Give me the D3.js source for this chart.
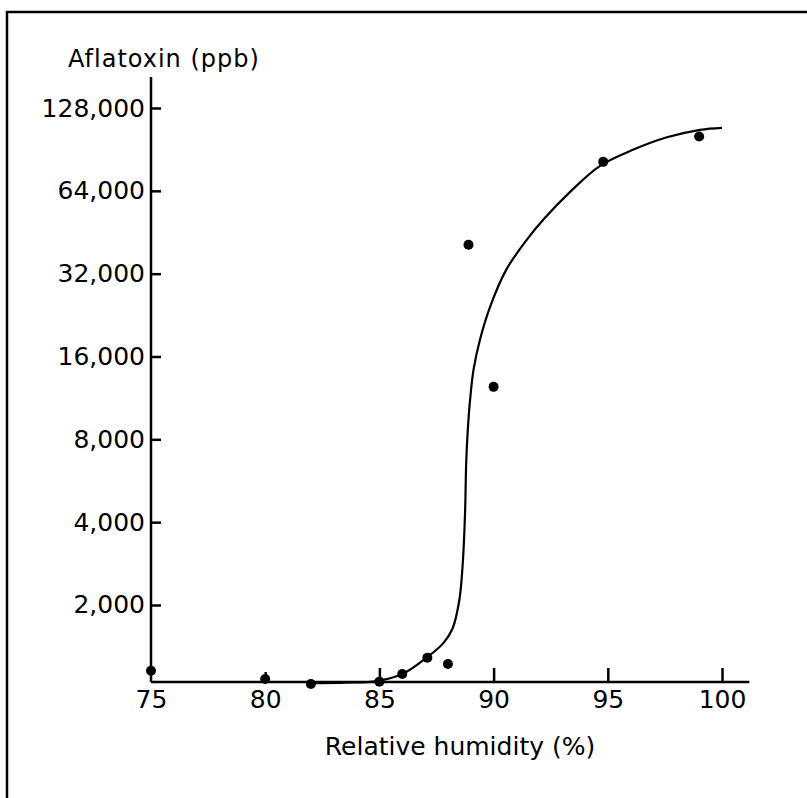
<!DOCTYPE html>
<html>
<head>
<meta charset="utf-8">
<script src="https://cdn.jsdelivr.net/npm/d3@7"></script>
<style>
  body { margin: 0; background: #fff; }
  svg { display: block; }
</style>
</head>
<body>
<svg></svg>
<script>
const svgWidth = 807
const svgHeight = 798

// measured points (relative humidity %, aflatoxin ppb)
const humidity = [75, 80, 82, 85, 86, 87.1, 88, 88.9, 90, 94.8, 99]
const aflatoxin = [1154, 1076, 1032, 1053, 1122, 1287, 1221, 40740, 12410, 81570, 100900]

// fitted curve
const curveHumidity = [81.9, 83.5, 84.9, 86.0, 87.1, 87.8, 88.2, 88.5, 88.65, 88.75, 88.8, 88.87, 88.97, 89.12, 89.4, 89.85, 90.55, 91.45, 92.21, 93.35, 94.66, 96.1, 97.59, 99.04, 100.0]
const curvePpb = [1040, 1045, 1058, 1122, 1294, 1454, 1640, 2085, 2843, 4320, 6566, 8660, 11130, 14300, 18380, 24300, 33040, 42460, 50640, 63460, 78900, 90200, 100160, 106660, 108460]

const xTicks = [75, 80, 85, 90, 95, 100]
const yTicks = [2000, 4000, 8000, 16000, 32000, 64000, 128000]

const svg = d3.select("svg")
    .attr("width", svgWidth)
    .attr("height", svgHeight)

// frame round the figure
svg.append("rect")
    .attr("x", 7)
    .attr("y", 12)
    .attr("width", 830)
    .attr("height", 820)
    .attr("fill", "none")
    .attr("stroke", "#000")
    .attr("stroke-width", 2.5)

const xScale = d3.scaleLinear()
    .domain([75, 100])
    .range([151, 722])
const yScale = d3.scaleLog()
    .base(2)
    .domain([1050, 128000])
    .range([682, 108])

const font = "'DejaVu Sans', sans-serif"

// axis lines
svg.append("line")
    .attr("x1", xScale(75)).attr("x2", xScale(75))
    .attr("y1", yScale(1050)).attr("y2", 77)
    .attr("stroke", "#000").attr("stroke-width", 2.5)
svg.append("line")
    .attr("x1", xScale(75)).attr("x2", xScale(101.2))
    .attr("y1", yScale(1050)).attr("y2", yScale(1050))
    .attr("stroke", "#000").attr("stroke-width", 2.5)

const yAxis = svg.append("g")
    .attr("transform", `translate(${xScale(75)},0)`)
    .call(d3.axisLeft(yScale)
        .tickValues(yTicks)
        .tickFormat(d3.format(","))
        .tickSizeInner(-10)
        .tickSizeOuter(0)
        .tickPadding(6))
yAxis.select(".domain").remove()
yAxis.selectAll(".tick line").attr("stroke-width", 2.5)
yAxis.selectAll(".tick text")
    .attr("font-family", font)
    .attr("font-size", 25)
    .attr("fill", "#000")

const xAxis = svg.append("g")
    .attr("transform", `translate(0,${yScale(1050)})`)
    .call(d3.axisBottom(xScale)
        .tickValues(xTicks)
        .tickSizeInner(-14)
        .tickSizeOuter(0)
        .tickPadding(8))
xAxis.select(".domain").remove()
xAxis.selectAll(".tick line")
    .attr("stroke-width", 2.5)
    .attr("y2", (d) => d === 80 ? -10 : -14)
    .attr("display", (d) => d === 75 ? "none" : null)
xAxis.selectAll(".tick text")
    .attr("font-family", font)
    .attr("font-size", 25)
    .attr("fill", "#000")

// axis titles
svg.append("text")
    .text("Aflatoxin (ppb)")
    .attr("x", 68)
    .attr("y", 67)
    .attr("font-family", font)
    .attr("font-size", 24)
    .attr("letter-spacing", 1)

svg.append("text")
    .text("Relative humidity (%)")
    .attr("x", 460)
    .attr("y", 755)
    .attr("text-anchor", "middle")
    .attr("font-family", font)
    .attr("font-size", 25)

// fitted curve
const line = d3.line()
    .x((d, i) => xScale(curveHumidity[i]))
    .y((d) => yScale(d))
    .curve(d3.curveCatmullRom.alpha(0.5))

svg.append("path")
    .attr("d", line(curvePpb))
    .attr("fill", "none")
    .attr("stroke", "#000")
    .attr("stroke-width", 2.2)

// data points
svg.selectAll(".dot")
    .data(aflatoxin)
    .join("circle")
    .attr("class", "dot")
    .attr("cx", (d, i) => xScale(humidity[i]))
    .attr("cy", (d) => yScale(d))
    .attr("r", 5)
    .attr("fill", "#000")
</script>
</body>
</html>
